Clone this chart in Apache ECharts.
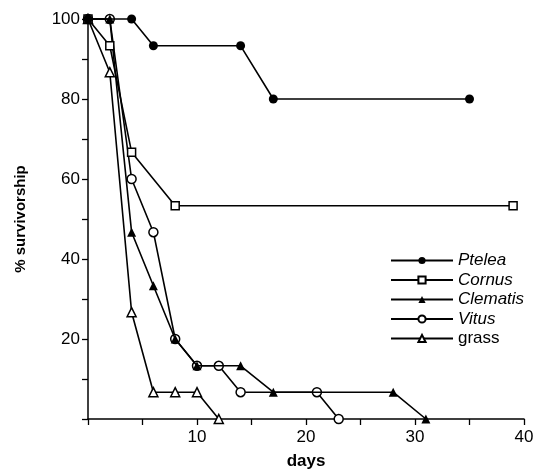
<!DOCTYPE html>
<html>
<head>
<meta charset="utf-8">
<script src="https://cdn.jsdelivr.net/npm/echarts@6/dist/echarts.min.js"></script>
<style>
  html, body { margin: 0; padding: 0; background: #fff; }
  #chart { width: 537px; height: 475px; }
</style>
</head>
<body>
<div id="chart"></div>
<script>
// survivorship data (days, % surviving)
const pteleaDays = [0, 4, 6, 14, 17, 35]
const pteleaVals = [100, 100, 93.3, 93.3, 80, 80]
const cornusDays = [0, 2, 4, 8, 39]
const cornusVals = [100, 93.3, 66.7, 53.3, 53.3]
const clematisDays = [0, 2, 4, 6, 8, 10, 14, 17, 28, 31]
const clematisVals = [100, 100, 46.7, 33.3, 20, 13.3, 13.3, 6.7, 6.7, 0]
const vitusDays = [0, 2, 4, 6, 8, 10, 12, 14, 21, 23]
const vitusVals = [100, 100, 60, 46.7, 20, 13.3, 13.3, 6.7, 6.7, 0]
const grassDays = [0, 2, 4, 6, 8, 10, 12]
const grassVals = [100, 86.7, 26.7, 6.7, 6.7, 6.7, 0]

const xLabels = [10, 20, 30, 40]
const yLabels = [20, 40, 60, 80, 100]

const font = 'Liberation Sans, Arial, Helvetica, sans-serif'

function pairs(xs, ys) {
  return xs.map((x, i) => [x, ys[i]])
}

function makeSeries(name, xs, ys, symbol, filled, z) {
  return {
    name: name,
    type: 'line',
    data: pairs(xs, ys),
    symbol: symbol,
    symbolSize: symbol === 'rect' ? 8 : 9,
    showAllSymbol: true,
    clip: false,
    z: z,
    lineStyle: { color: '#000', width: 1.6 },
    itemStyle: {
      color: filled ? '#000' : '#fff',
      borderColor: '#000',
      borderWidth: filled ? 0 : 1.5
    },
    emphasis: { disabled: true },
    animation: false
  }
}

const myChart = echarts.init(document.getElementById('chart'), null, { renderer: 'canvas' })

const option = {
  backgroundColor: '#fff',
  animation: false,
  grid: { left: 88, right: 13, top: 19, bottom: 56 },
  legend: {
    orient: 'vertical',
    left: 385,
    top: 246,
    itemWidth: 62,
    itemHeight: 9,
    itemGap: 0.5,
    textStyle: { fontFamily: font, fontSize: 17, color: '#000', fontStyle: 'italic', lineHeight: 19,
      rich: { n: { fontFamily: font, fontSize: 17, color: '#000', fontStyle: 'normal' } } },
    formatter(name) {
      return name === 'grass' ? '{n|grass}' : name
    },
    data: ['Ptelea', 'Cornus', 'Clematis', 'Vitus', 'grass']
  },
  xAxis: {
    type: 'value',
    min: 0,
    max: 40,
    interval: 5,
    name: 'days',
    nameLocation: 'middle',
    nameGap: 34,
    nameTextStyle: { fontFamily: font, fontSize: 17, fontWeight: 'bold', color: '#000' },
    axisLine: { show: true, lineStyle: { color: '#000', width: 1.5 } },
    axisTick: { show: true, length: 6, lineStyle: { color: '#000', width: 1.3 } },
    axisLabel: {
      fontFamily: font, fontSize: 17, color: '#000', margin: 10,
      formatter(v) { return xLabels.includes(v) ? String(v) : '' }
    },
    splitLine: { show: false }
  },
  yAxis: {
    type: 'value',
    min: 0,
    max: 100,
    interval: 10,
    name: '% survivorship',
    nameLocation: 'middle',
    nameGap: 60,
    nameTextStyle: { fontFamily: font, fontSize: 15, fontWeight: 'bold', color: '#000' },
    axisLine: { show: true, lineStyle: { color: '#000', width: 1.5 } },
    axisTick: { show: true, length: 6, lineStyle: { color: '#000', width: 1.3 } },
    axisLabel: {
      fontFamily: font, fontSize: 17, color: '#000', margin: 8,
      formatter(v) { return yLabels.includes(v) ? String(v) : '' }
    },
    splitLine: { show: false }
  },
  series: [
    makeSeries('Ptelea', pteleaDays, pteleaVals, 'circle', true, 6),
    makeSeries('Cornus', cornusDays, cornusVals, 'rect', false, 5),
    makeSeries('Clematis', clematisDays, clematisVals, 'triangle', true, 4),
    makeSeries('Vitus', vitusDays, vitusVals, 'circle', false, 3),
    makeSeries('grass', grassDays, grassVals, 'triangle', false, 2)
  ]
}

myChart.setOption(option)
</script>
</body>
</html>
